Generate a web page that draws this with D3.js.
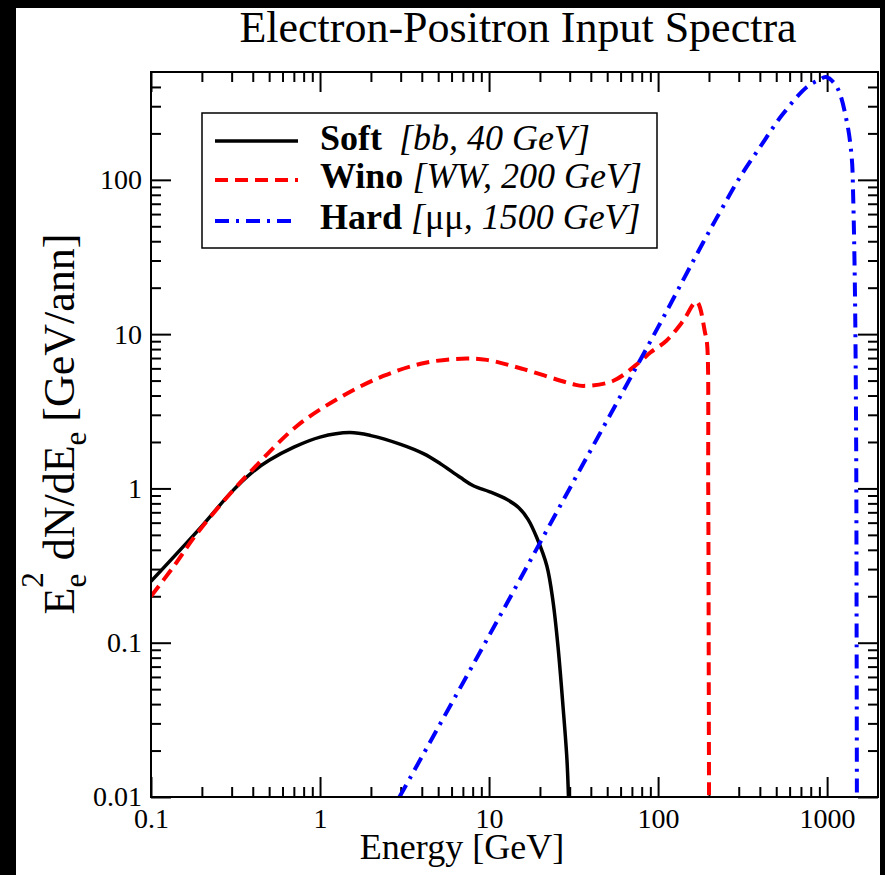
<!DOCTYPE html>
<html>
<head>
<meta charset="utf-8">
<script src="https://cdn.jsdelivr.net/npm/d3@7"></script>
<style>
  body { margin: 0; background: #000; }
  svg { display: block; }
  text { font-family: "Liberation Serif", "Times New Roman", serif; fill: #000; }
</style>
</head>
<body>
<script>
'use strict';

const width = 885;
const height = 875;
const plotLeft = 151;
const plotRight = 878;
const plotTop = 72;
const plotBottom = 797;

// Soft: bb, 40 GeV
const softE = [0.1, 0.2, 0.3, 0.4, 0.5, 0.7, 1.0, 1.5, 2, 3, 4.09, 5.13, 6.74, 8.07, 10.1, 12.7, 15, 17, 19.2, 22, 23.9, 25.6, 27.4, 28.9, 29.6, 30.2];
const softV = [0.25, 0.57, 0.95, 1.28, 1.52, 1.85, 2.15, 2.3, 2.2, 1.93, 1.68, 1.45, 1.18, 1.04, 0.95, 0.85, 0.75, 0.63, 0.477, 0.313, 0.185, 0.0935, 0.0384, 0.0174, 0.009, 0.004];

// Wino: WW, 200 GeV
const winoE = [0.1, 0.1355, 0.182, 0.28, 0.4, 0.73, 1.31, 2.37, 4.28, 7.4, 9.7, 16, 31.5, 36, 54, 78, 90, 112, 140, 169, 190, 195, 198, 199.5, 200.5];
const winoV = [0.2, 0.31, 0.49, 0.87, 1.33, 2.54, 3.88, 5.36, 6.55, 6.95, 6.81, 5.93, 4.73, 4.62, 4.97, 6.62, 7.6, 9.07, 12.1, 16.2, 10.1, 8.6, 1.0, 0.05, 0.004];

// Hard: mu mu, 1500 GeV
const hardE = [2.95, 10, 30, 100, 185, 238, 305, 401, 540, 759, 900, 986, 1141, 1309, 1400, 1424, 1460, 1485, 1495, 1502];
const hardV = [0.01, 0.111, 1.0, 11.1, 39.4, 64.8, 104, 163, 262, 400, 445, 464, 400, 237, 137, 83, 20, 2, 0.1, 0.004];

const xMajor = [0.1, 1, 10, 100, 1000];
const yMajor = [0.01, 0.1, 1, 10, 100];
const xLabels = ['0.1', '1', '10', '100', '1000'];
const yLabels = ['0.01', '0.1', '1', '10', '100'];

const seriesNames = ['Soft', 'Wino', 'Hard'];

let svg = d3.select('body').append('svg').attr('width', width).attr('height', height);

svg.append('rect').attr('width', width).attr('height', height).attr('fill', '#000');
svg.append('rect').attr('x', 16).attr('y', 8).attr('width', 864).attr('height', height - 8).attr('fill', '#fff');

let xScale = d3.scaleLog().domain([0.1, 2000]).range([plotLeft, plotRight]);
let yScale = d3.scaleLog().domain([0.01, 500]).range([plotBottom, plotTop]);

// minor ticks at 2..9 of every decade inside the domain
function minorTicks(scale) {
    let [a, b] = scale.domain();
    let out = [];
    for (let p = Math.floor(Math.log10(a)); p <= Math.ceil(Math.log10(b)); p++) {
        for (let m = 2; m <= 9; m++) {
            let v = m * Math.pow(10, p);
            if (v > a && v < b) out.push(v);
        }
    }
    return out;
}

const xMinor = minorTicks(xScale);
const yMinor = minorTicks(yScale);

function styleAxis(g) {
    g.select('.domain').remove();
    g.selectAll('line').attr('stroke', '#000').attr('stroke-width', 2);
}

// inward ticks on all four sides
svg.append('g').attr('transform', 'translate(0,' + plotBottom + ')')
    .call(d3.axisBottom(xScale).tickValues(xMinor).tickSize(-10).tickFormat(''))
    .call(styleAxis);
svg.append('g').attr('transform', 'translate(0,' + plotBottom + ')')
    .call(d3.axisBottom(xScale).tickValues(xMajor).tickSize(-20).tickPadding(11)
        .tickFormat((d, i) => xLabels[i]))
    .call(styleAxis)
    .selectAll('text').attr('font-size', 28);
svg.append('g').attr('transform', 'translate(0,' + plotTop + ')')
    .call(d3.axisTop(xScale).tickValues(xMinor).tickSize(-10).tickFormat(''))
    .call(styleAxis);
svg.append('g').attr('transform', 'translate(0,' + plotTop + ')')
    .call(d3.axisTop(xScale).tickValues(xMajor).tickSize(-20).tickFormat(''))
    .call(styleAxis);

svg.append('g').attr('transform', 'translate(' + plotLeft + ',0)')
    .call(d3.axisLeft(yScale).tickValues(yMinor).tickSize(-10).tickFormat(''))
    .call(styleAxis);
svg.append('g').attr('transform', 'translate(' + plotLeft + ',0)')
    .call(d3.axisLeft(yScale).tickValues(yMajor).tickSize(-20).tickPadding(9)
        .tickFormat((d, i) => yLabels[i]))
    .call(styleAxis)
    .selectAll('text').attr('font-size', 28);
svg.append('g').attr('transform', 'translate(' + plotRight + ',0)')
    .call(d3.axisRight(yScale).tickValues(yMinor).tickSize(-10).tickFormat(''))
    .call(styleAxis);
svg.append('g').attr('transform', 'translate(' + plotRight + ',0)')
    .call(d3.axisRight(yScale).tickValues(yMajor).tickSize(-20).tickFormat(''))
    .call(styleAxis);

svg.append('defs').append('clipPath').attr('id', 'plotClip')
    .append('rect').attr('x', plotLeft).attr('y', plotTop)
    .attr('width', plotRight - plotLeft).attr('height', plotBottom - plotTop);

let line = d3.line()
    .x(d => xScale(d[0]))
    .y(d => yScale(d[1]))
    .curve(d3.curveCatmullRom.alpha(0.5));

const styles = {
    Soft: { color: '#000000', dash: null, width: 3.5 },
    Wino: { color: '#ff0000', dash: '13,7', width: 4 },
    Hard: { color: '#0000ff', dash: '14,7,3,7', width: 4 }
};

let curves = {
    Soft: d3.zip(softE, softV),
    Wino: d3.zip(winoE, winoV),
    Hard: d3.zip(hardE, hardV)
};

let plot = svg.append('g').attr('clip-path', 'url(#plotClip)');
for (let name of seriesNames) {
    plot.append('path')
        .datum(curves[name])
        .attr('fill', 'none')
        .attr('stroke', styles[name].color)
        .attr('stroke-width', styles[name].width)
        .attr('stroke-dasharray', styles[name].dash)
        .attr('d', line);
}

// frame
svg.append('rect')
    .attr('x', plotLeft).attr('y', plotTop)
    .attr('width', plotRight - plotLeft).attr('height', plotBottom - plotTop)
    .attr('fill', 'none').attr('stroke', '#000').attr('stroke-width', 2);

// legend
let legend = svg.append('g');
legend.append('rect')
    .attr('x', 202).attr('y', 113).attr('width', 455).attr('height', 135)
    .attr('fill', '#fff').attr('stroke', '#000').attr('stroke-width', 1.5);

const legendRows = [141, 180, 221];
seriesNames.forEach((name, i) => {
    legend.append('line')
        .attr('x1', 215).attr('x2', 298)
        .attr('y1', legendRows[i]).attr('y2', legendRows[i])
        .attr('stroke', styles[name].color)
        .attr('stroke-width', styles[name].width)
        .attr('stroke-dasharray', styles[name].dash);
});

let t1 = legend.append('text').attr('x', 320).attr('y', 150).attr('font-size', 36);
t1.append('tspan').attr('font-weight', 'bold').text('Soft');
t1.append('tspan').attr('font-style', 'italic').attr('dx', 17).text('[bb, 40 GeV]');

let t2 = legend.append('text').attr('x', 320).attr('y', 188).attr('font-size', 36);
t2.append('tspan').attr('font-weight', 'bold').text('Wino');
t2.append('tspan').attr('font-style', 'italic').attr('dx', 9).text('[WW, 200 GeV]');

let t3 = legend.append('text').attr('x', 320).attr('y', 229).attr('font-size', 36);
t3.append('tspan').attr('font-weight', 'bold').text('Hard');
t3.append('tspan').attr('font-style', 'italic').attr('dx', 9).text('[');
t3.append('tspan').text('μμ');
t3.append('tspan').attr('font-style', 'italic').text(', 1500 GeV]');

// title and axis labels
svg.append('text')
    .attr('x', 518).attr('y', 42)
    .attr('text-anchor', 'middle').attr('font-size', 44)
    .text('Electron-Positron Input Spectra');

svg.append('text')
    .attr('x', 462).attr('y', 859)
    .attr('text-anchor', 'middle').attr('font-size', 36)
    .text('Energy [GeV]');

let yLab = svg.append('text')
    .attr('transform', 'translate(74,424) rotate(-90)')
    .attr('text-anchor', 'middle').attr('font-size', 44);
yLab.append('tspan').text('E');
yLab.append('tspan').attr('font-size', 31).attr('dy', 12).text('e');
yLab.append('tspan').attr('font-size', 31).attr('dx', -14).attr('dy', -43).text('2');
yLab.append('tspan').attr('dy', 31).attr('dx', 12).text('dN/dE');
yLab.append('tspan').attr('font-size', 31).attr('dy', 12).text('e');
yLab.append('tspan').attr('dy', -12).attr('dx', 10).text('[GeV/ann]');
</script>
</body>
</html>
